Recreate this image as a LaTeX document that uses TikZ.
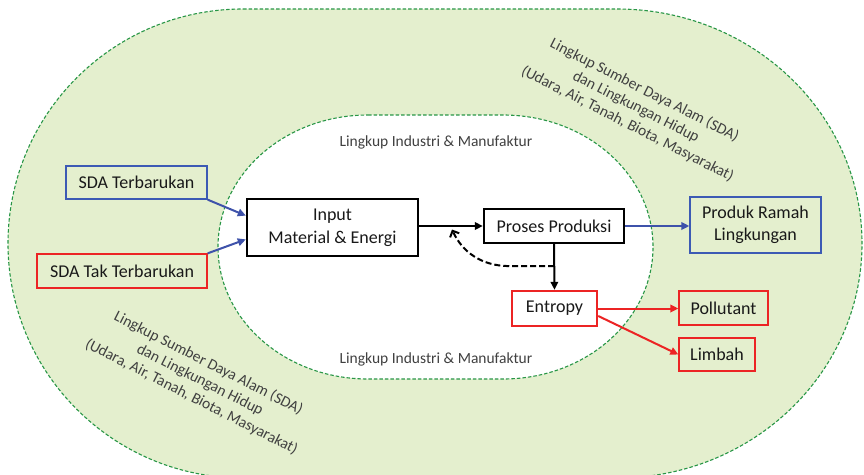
\documentclass[tikz,border=0pt]{standalone}
\usepackage{fontspec}
\setmainfont{Carlito}
\usetikzlibrary{arrows.meta,calc}
\definecolor{zgreen}{RGB}{228,239,206}
\definecolor{zdash}{RGB}{40,150,70}
\definecolor{zblue}{RGB}{62,82,170}
\definecolor{zbluebox}{RGB}{60,90,180}
\definecolor{zred}{RGB}{236,36,36}
\definecolor{zgray}{RGB}{64,64,64}
\begin{document}
\begin{tikzpicture}[x=1pt,y=1pt,
  zone/.style={draw=zdash, line width=1.1pt, dash pattern=on 3.5pt off 2pt},
  box/.style={rectangle, inner sep=0pt, align=center, text=black!90, font=\fontsize{18}{22.5}\selectfont},
  thinbox/.style={box, line width=1.3pt},
  thickbox/.style={box, line width=2.4pt, fill=white},
  lbl/.style={text=zgray, font=\fontsize{15.5}{18.8}\selectfont, align=center},
  arr/.style={line width=2pt, -{Triangle[length=8pt,width=7.5pt]}},
]
\useasboundingbox (0,0) rectangle (864,-474);
\begin{scope}
\clip (0,0) rectangle (864,-474);
% outer zone
\path[zone, fill=zgreen] (243,-9) -- (617,-9)
  arc[start angle=90, end angle=0, x radius=245, y radius=234.5]
  arc[start angle=0, end angle=-90, x radius=245, y radius=234.5]
  -- (243,-478)
  arc[start angle=270, end angle=180, x radius=235, y radius=234.5]
  arc[start angle=180, end angle=90, x radius=235, y radius=234.5]
  -- cycle;
% inner zone
\path[zone, fill=white] (368,-115) -- (503,-115)
  arc[start angle=90, end angle=-90, x radius=150, y radius=132]
  -- (368,-379)
  arc[start angle=270, end angle=90, x radius=150, y radius=132]
  -- cycle;
\end{scope}

% zone labels
\node[lbl] (indtop) at (436,-142) {Lingkup Industri \& Manufaktur};
\node[lbl] (indbot) at (436,-359) {Lingkup Industri \& Manufaktur};
\node[lbl, rotate=-27] (sdaup) at (636,-107) {Lingkup Sumber Daya Alam (SDA)\\dan Lingkungan Hidup\\(Udara, Air, Tanah, Biota, Masyarakat)};
\node[lbl, rotate=-27] (sdalow) at (200,-380) {Lingkup Sumber Daya Alam (SDA)\\dan Lingkungan Hidup\\(Udara, Air, Tanah, Biota, Masyarakat)};

% boxes
\node[thinbox, draw=zbluebox, minimum width=141pt, minimum height=33pt] (sdat) at (136.5,-182.5) {SDA Terbarukan};
\node[thinbox, draw=zred, minimum width=170pt, minimum height=34pt] (sdatt) at (122,-271) {SDA Tak Terbarukan};
\node[thickbox, draw=black, minimum width=171pt, minimum height=57pt, font=\fontsize{18}{23}\selectfont] (input) at (332.5,-227.5) {Input\\Material \& Energi};
\node[thickbox, draw=black, minimum width=140pt, minimum height=34pt] (proses) at (554,-226) {Proses Produksi};
\node[thickbox, draw=zred, minimum width=85pt, minimum height=35pt] (entropy) at (554.5,-308.5) {Entropy};
\node[thinbox, draw=zbluebox, minimum width=131pt, minimum height=56pt, font=\fontsize{18}{22}\selectfont] (produk) at (755.5,-225) {Produk Ramah\\Lingkungan};
\node[thinbox, draw=zred, minimum width=89pt, minimum height=34pt] (pollutant) at (723.5,-308) {Pollutant};
\node[thinbox, draw=zred, minimum width=76pt, minimum height=33pt] (limbah) at (717,-354.5) {Limbah};

% connectors
\draw[arr, draw=zblue, fill=zblue] (sdat.south east) -- ($(input.north west)!0.3!(input.south west)$);
\draw[arr, draw=zblue, fill=zblue] (sdatt.north east) -- ($(input.north west)!0.7!(input.south west)$);
\draw[arr, draw=black] (proses.west -| input.east) -- (proses.west);
\draw[arr, draw=zblue] (proses.east) -- (proses.east -| produk.west);
\draw[arr, draw=black] (proses.south) -- (entropy.north);
\draw[arr, draw=zred] (entropy.east) -- (entropy.east -| pollutant.west);
\draw[arr, draw=zred] ($(entropy.north east)!0.7!(entropy.south east)$) -- (limbah.west);

\coordinate (fb) at (452,-229.5);
\coordinate (ds) at ($(proses.south)!0.48!(entropy.north)$);
\draw[line width=2pt, dash pattern=on 6pt off 3pt, -{Straight Barb[length=5pt,width=10pt]}]
  (ds) -- ++(-45,0) .. controls +(-28,0) and +(10,-22) .. (fb);
\end{tikzpicture}
\end{document}
